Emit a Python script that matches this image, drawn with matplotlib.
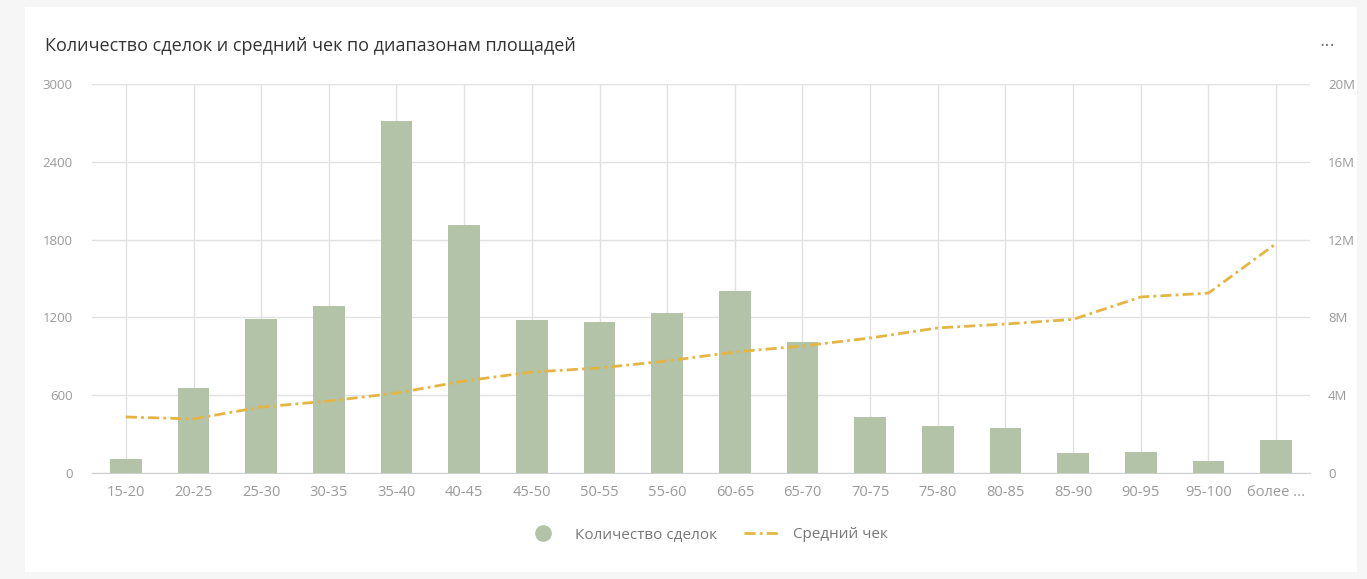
import matplotlib.pyplot as plt
import matplotlib.patches as patches
from matplotlib.lines import Line2D
import numpy as np

plt.rcParams['font.family'] = ['Open Sans', 'DejaVu Sans']

# area ranges, deal counts and average price (rub)
ranges = ['15-20', '20-25', '25-30', '30-35', '35-40', '40-45', '45-50', '50-55',
          '55-60', '60-65', '65-70', '70-75', '75-80', '80-85', '85-90', '90-95',
          '95-100', 'более ...']
deals = [110, 655, 1190, 1290, 2715, 1915, 1180, 1165, 1235, 1405, 1010,
         432, 362, 347, 154, 162, 93, 254]
avg_price = [2.88e6, 2.78e6, 3.39e6, 3.70e6, 4.11e6, 4.73e6, 5.19e6, 5.40e6,
             5.76e6, 6.22e6, 6.53e6, 6.94e6, 7.46e6, 7.66e6, 7.90e6, 9.05e6,
             9.25e6, 11.8e6]

left_ticks = [0, 600, 1200, 1800, 2400, 3000]
right_ticks = [0, 4e6, 8e6, 12e6, 16e6, 20e6]
right_labels = ['0', '4M', '8M', '12M', '16M', '20M']

bar_color = '#b2c3a7'
line_color = '#e5b544'
tick_color = '#9a9a9a'
grid_color = '#e1e1e1'
dash = (4, 1.5, 1, 1.5)

fig = plt.figure(figsize=(13.67, 5.79), dpi=100)
fig.patch.set_facecolor('#f6f6f6')
# white card behind everything
card = patches.Rectangle((25 / 1367, 7 / 579), 1332 / 1367, 565 / 579,
                         transform=fig.transFigure, fc='white', ec='none', zorder=-10)
fig.add_artist(card)

ax = fig.add_axes([92 / 1367, 1 - 473 / 579, 1218 / 1367, 389 / 579])
ax.set_facecolor('none')
x = np.arange(len(ranges))

ax.bar(x, deals, width=0.47, color=bar_color, zorder=3)
ax.set_xlim(-0.5, len(ranges) - 0.5)
ax.set_ylim(0, 3000)
ax.set_yticks(left_ticks)
ax.set_yticklabels([str(t) for t in left_ticks])
ax.set_xticks(x)
ax.set_xticklabels(ranges)
ax.grid(True, color=grid_color, lw=1, zorder=0)
for s in ['top', 'right', 'left']:
    ax.spines[s].set_visible(False)
ax.spines['bottom'].set_color('#cfcfcf')
ax.tick_params(axis='both', length=0, colors=tick_color, labelsize=9.5)
ax.tick_params(axis='y', pad=14)
ax.tick_params(axis='x', pad=9)
for lab in ax.get_xticklabels():
    lab.set_fontsize(10.5)

ax2 = ax.twinx()
ax2.set_facecolor('none')
ax2.plot(x, avg_price, color=line_color, lw=2, dashes=dash, zorder=4)
ax2.set_ylim(0, 20e6)
ax2.set_yticks(right_ticks)
ax2.set_yticklabels(right_labels)
for s in ax2.spines.values():
    s.set_visible(False)
ax2.tick_params(axis='y', length=0, colors=tick_color, labelsize=9.5, pad=13)

fig.text(45 / 1367, 1 - 46 / 579, 'Количество сделок и средний чек по диапазонам площадей',
         fontsize=13, color='#333333', va='center', ha='left')
fig.text(1327 / 1367, 1 - 46 / 579, '···', fontsize=12, color='#777777',
         va='center', ha='center', family=['DejaVu Sans'])

handles = [Line2D([], [], marker='o', ls='none', ms=11, color=bar_color),
           Line2D([], [], color=line_color, lw=2, dashes=dash)]
leg = fig.legend(handles, ['Количество сделок', 'Средний чек'], loc='center',
                 bbox_to_anchor=(707 / 1367, 1 - 535 / 579), ncol=2, frameon=False,
                 fontsize=11, handlelength=2.2, columnspacing=1.8, handletextpad=1.0)
for t in leg.get_texts():
    t.set_color('#777777')

fig.savefig('out.png', dpi=100, facecolor=fig.get_facecolor())
